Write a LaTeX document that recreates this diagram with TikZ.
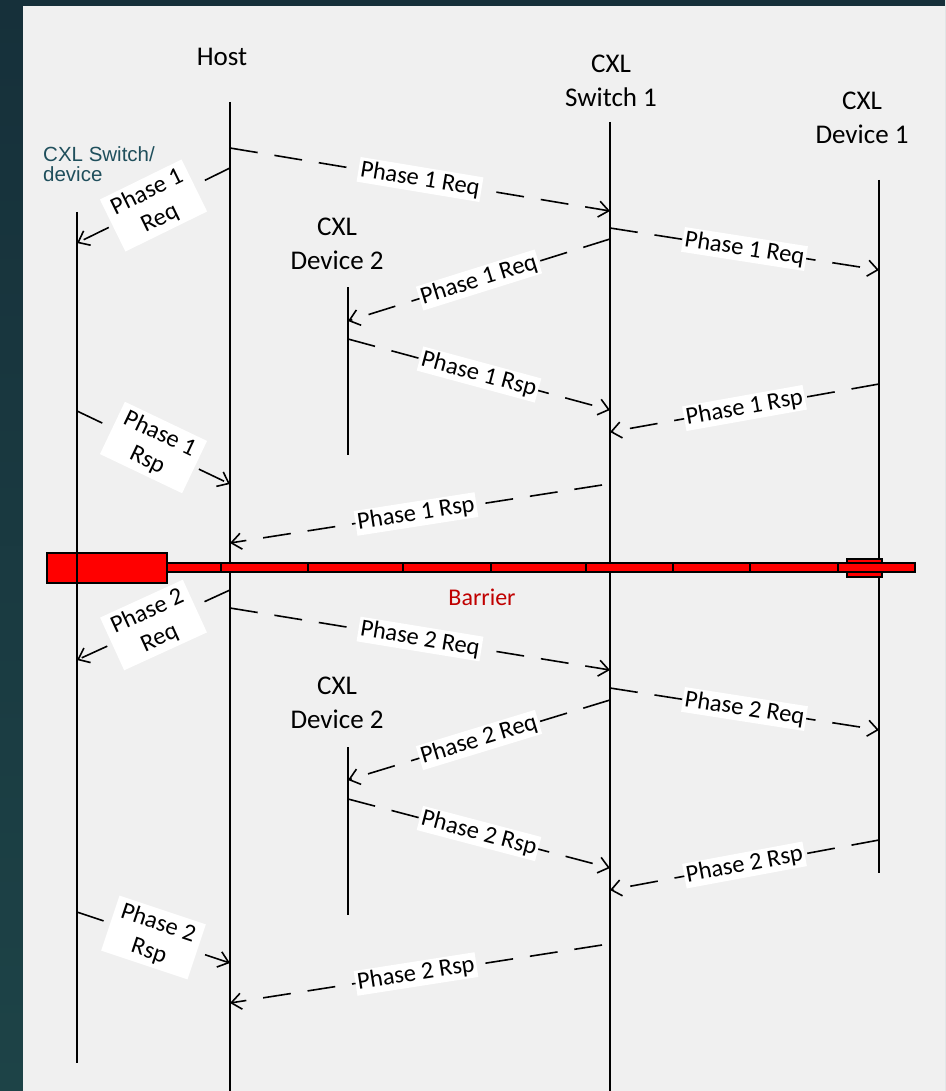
\documentclass[tikz,border=0pt]{standalone}
\usepackage{fontspec}
\setmainfont{Carlito}
\newfontfamily\notefont{Liberation Sans}
\usetikzlibrary{arrows.meta}

\definecolor{frametop}{HTML}{16303A}
\definecolor{framebot}{HTML}{1D4347}
\definecolor{paper}{HTML}{F0F0F0}
\definecolor{noteteal}{HTML}{1F4F5C}
\definecolor{barrierred}{HTML}{FF0000}
\definecolor{barriertext}{HTML}{C00000}

\begin{document}
\begin{tikzpicture}[x=1pt,y=-1pt,
  lifeline/.style={line width=1.8pt},
  msg/.style={line width=1.6pt, dash pattern=on 28pt off 17pt,
    -{Straight Barb[length=10pt,width=16pt]}},
  lbl/.style={fill=white, inner sep=2pt, sloped,
    font=\fontsize{24.5}{29}\selectfont},
  lbltwo/.style={lbl, align=center, inner xsep=7pt, inner ysep=4pt},
  heading/.style={font=\fontsize{27}{34}\selectfont, align=center, inner sep=0pt},
  band/.style={fill=barrierred, draw=black, line width=1.3pt},
]
\useasboundingbox (0,0) rectangle (945,1091);

% frame and page
\shade[top color=frametop, bottom color=framebot] (0,0) rectangle (945,1091);
\fill[paper] (23,6) rectangle (945,1091);

% lifeline ends
\coordinate (Ltop) at (77,212);   \coordinate (Lbot) at (77,1063);
\coordinate (Htop) at (230,102);  \coordinate (Hbot) at (230,1091);
\coordinate (Stop) at (610,122);  \coordinate (Sbot) at (610,1091);
\coordinate (Dtop) at (879,180);  \coordinate (Dbot) at (879,873);
\coordinate (Eatop) at (348,287); \coordinate (Eabot) at (348,455);
\coordinate (Ebtop) at (348,747); \coordinate (Ebbot) at (348,915);

\draw[lifeline] (Htop) -- (Hbot);
\draw[lifeline] (Stop) -- (Sbot);
\draw[lifeline] (Dtop) -- (Dbot);
\draw[lifeline] (Eatop) -- (Eabot);
\draw[lifeline] (Ebtop) -- (Ebbot);

% barrier
\draw[band] (847,559) rectangle (882,577);
\foreach \a/\b in {167/221,221/308,308/403,403/491,491/586,586/673,673/750,750/838,838/915}
  \draw[band] (\a,563) rectangle (\b,572);
\draw[band, line width=1.6pt] (47,553) rectangle (167,583);
\node[text=barriertext, font=\fontsize{24}{28}\selectfont, inner sep=0pt] (barrier) at (482,597) {Barrier};

\draw[lifeline] (Ltop) -- (Lbot);

% headings
\node[heading] (host) at (222,57) {Host};
\node[heading] (sw1) at (611,81) {CXL\\Switch 1};
\node[heading] (dev1) at (862,118) {CXL\\Device 1};
\node[heading] (dev2a) at (337,244) {CXL\\Device 2};
\node[heading] (dev2b) at (337,703) {CXL\\Device 2};
\node[anchor=west, align=left, inner sep=0pt, text=noteteal,
  font=\notefont\fontsize{20.5}{20}\selectfont] (swdev) at (43,164) {CXL Switch/\\device};

% phase 1
\draw[msg] (Htop|-0,148) -- (Stop|-0,211) node[lbl,midway] (m1) {Phase 1 Req};
\draw[msg] (Htop|-0,168) -- (Ltop|-0,243) node[lbltwo,midway] (m2) {Phase 1\\Req};
\draw[msg] (Stop|-0,228) -- (Dtop|-0,270) node[lbl,midway] (m3) {Phase 1 Req};
\draw[msg] (Stop|-0,239) -- (Eatop|-0,321) node[lbl,midway] (m4) {Phase 1 Req};
\draw[msg] (Eatop|-0,339) -- (Stop|-0,410) node[lbl,midway] (m5) {Phase 1 Rsp};
\draw[msg] (Dtop|-0,384) -- (Stop|-0,432) node[lbl,midway] (m6) {Phase 1 Rsp};
\draw[msg] (Ltop|-0,411) -- (Htop|-0,484) node[lbltwo,midway] (m7) {Phase 1\\Rsp};
\draw[msg] ([xshift=-8pt]Stop|-0,485) -- (Htop|-0,543) node[lbl,midway] (m8) {Phase 1 Rsp};

% phase 2
\draw[msg] (Htop|-0,608) -- (Stop|-0,670) node[lbl,midway] (n1) {Phase 2 Req};
\draw[msg] (Htop|-0,590) -- (Ltop|-0,660) node[lbltwo,midway] (n2) {Phase 2\\Req};
\draw[msg] (Stop|-0,688) -- (Dtop|-0,730) node[lbl,midway] (n3) {Phase 2 Req};
\draw[msg] (Stop|-0,700) -- (Ebtop|-0,780) node[lbl,midway] (n4) {Phase 2 Req};
\draw[msg] (Ebtop|-0,799) -- (Stop|-0,868) node[lbl,midway] (n5) {Phase 2 Rsp};
\draw[msg] (Dtop|-0,840) -- (Stop|-0,890) node[lbl,midway] (n6) {Phase 2 Rsp};
\draw[msg] (Ltop|-0,912) -- (Htop|-0,963) node[lbltwo,midway] (n7) {Phase 2\\Rsp};
\draw[msg] ([xshift=-8pt]Stop|-0,945) -- (Htop|-0,1003) node[lbl,midway] (n8) {Phase 2 Rsp};
\end{tikzpicture}
\end{document}
